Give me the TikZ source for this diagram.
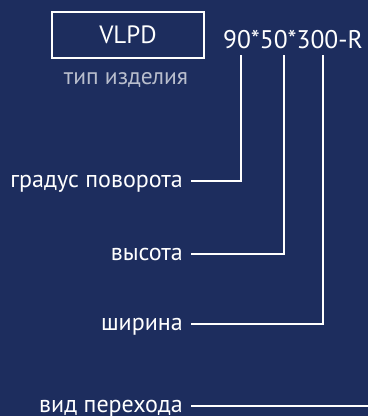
\documentclass[tikz,border=0pt]{standalone}
\usepackage{fontspec}
\setmainfont{PT Sans}
\usetikzlibrary{positioning}
\definecolor{navy}{HTML}{1D2D5E}
\definecolor{softgray}{HTML}{B9BECD}

\begin{document}
\begin{tikzpicture}[x=1pt,y=-1pt,
    lbl/.style={anchor=east,text=white,inner sep=0pt,text height=12pt,text depth=0pt,font=\fontsize{24}{24}\selectfont},
    lead/.style={draw=white,line width=1.8pt}]
  \fill[navy] (0,0) rectangle (368,416);
  % code of the product
  \node[draw=white,line width=2pt,minimum width=152pt,minimum height=46pt,text=white,font=\fontsize{25}{25}\selectfont] (type) at (128,35) {VLPD};
  \node[anchor=base,text=softgray,font=\fontsize{23.5}{23.5}\selectfont,inner sep=0pt] (typecap) at (126,84) {тип изделия};
  \node[anchor=base west,text=white,inner sep=0pt,font=\fontsize{25.5}{25.5}\selectfont] (code) at (223,48) {90*50*300-R};
  \coordinate (angle) at (241,55);
  \coordinate (height) at (284,55);
  \coordinate (width) at (323,55);
  \coordinate (edge) at (368,406);
  % labels
  \node[lbl] (angletxt)  at (183,181) {градус поворота};
  \node[lbl] (heighttxt) at (183,254) {высота};
  \node[lbl] (widthtxt)  at (183,324) {ширина};
  \node[lbl] (kindtxt)   at (183,406) {вид перехода};

  \draw[lead] ([xshift=8pt]angletxt.east) -| (angle);
  \draw[lead] ([xshift=8pt]heighttxt.east) -| (height);
  \draw[lead] ([xshift=8pt]widthtxt.east) -| (width);
  \draw[lead] ([xshift=8pt]kindtxt.east) -- (edge);
\end{tikzpicture}
\end{document}
